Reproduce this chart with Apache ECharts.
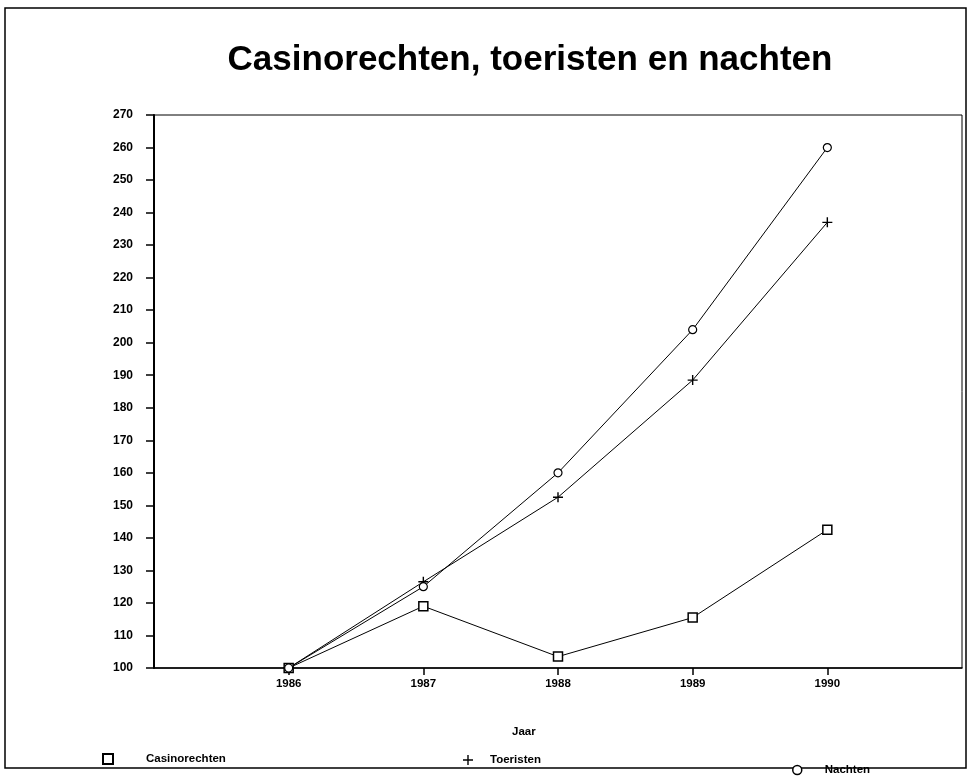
<!DOCTYPE html>
<html>
<head>
<meta charset="utf-8">
<script src="https://cdn.jsdelivr.net/npm/echarts@6/dist/echarts.min.js"></script>
<style>html,body{margin:0;padding:0;background:#fff}#c{width:975px;height:779px}</style>
</head>
<body>
<div id="c"></div>
<script>
var years = [1986, 1987, 1988, 1989, 1990];
var yTicks = [100,110,120,130,140,150,160,170,180,190,200,210,220,230,240,250,260,270];
var casinorechten = [100, 119, 103.5, 115.5, 142.5];
var toeristen = [100, 126.5, 152.5, 188.5, 237];
var nachten = [100, 125, 160, 204, 260];

function pairs(vals){ return years.map(function(y,i){ return [y, vals[i]]; }); }
var FONT = '"Liberation Sans", Arial, sans-serif';
var plus = 'path://M4.3,0H5.7V10H4.3ZM0,4.3H10V5.7H0Z';

var chart = echarts.init(document.getElementById('c'));
chart.setOption({
  backgroundColor: '#fff',
  animation: false,
  title: {
    text: 'Casinorechten, toeristen en nachten',
    left: 525, top: 38, textAlign: 'center',
    textStyle: {fontFamily: FONT, fontSize: 35, fontWeight: 'bold', color: '#000'}
  },
  grid: {left: 154, top: 115, right: 13, bottom: 111, show: true, borderColor: '#000', borderWidth: 1, backgroundColor: 'transparent'},
  xAxis: {
    type: 'value', min: 1985, max: 1991, interval: 1,
    axisLine: {show: true, lineStyle: {color: '#000', width: 1.5}},
    axisTick: {show: true, length: 7, lineStyle: {color: '#000', width: 1.5},
      customValues: years},
    axisLabel: {
      customValues: years,
      formatter: function(v){ return String(v); },
      fontFamily: FONT, fontSize: 11.5, fontWeight: 'bold', color: '#000', margin: 10
    },
    splitLine: {show: false}
  },
  yAxis: {
    type: 'value', min: 100, max: 270, interval: 10,
    axisLine: {show: true, lineStyle: {color: '#000', width: 2}},
    axisTick: {show: true, length: 8, lineStyle: {color: '#000', width: 1.5}},
    axisLabel: {fontFamily: FONT, fontSize: 12, fontWeight: 'bold', color: '#000', margin: 21},
    splitLine: {show: false}
  },
  legend: [
    {left: 97, top: 748, itemWidth: 10, itemHeight: 10, itemGap: 10,
     data: [{name: 'Casinorechten', icon: 'rect', itemStyle: {color: '#fff', borderColor: '#000', borderWidth: 2}}],
     textStyle: {fontFamily: FONT, fontSize: 11.5, fontWeight: 'bold', color: '#000', padding: [0,0,0,28]}},
    {left: 458, top: 749, itemWidth: 10, itemHeight: 10,
     data: [{name: 'Toeristen', icon: plus, itemStyle: {color: '#000', borderWidth: 0}}],
     textStyle: {fontFamily: FONT, fontSize: 11.5, fontWeight: 'bold', color: '#000', padding: [0,0,0,12]}},
    {left: 787, top: 759, itemWidth: 9, itemHeight: 9,
     data: [{name: 'Nachten', icon: 'circle', itemStyle: {color: '#fff', borderColor: '#000', borderWidth: 1.5}}],
     textStyle: {fontFamily: FONT, fontSize: 11.5, fontWeight: 'bold', color: '#000', padding: [0,0,0,18]}}
  ],
  graphic: [
    {type: 'rect', shape: {x: 5, y: 8, width: 961, height: 760}, style: {fill: 'none', stroke: '#000', lineWidth: 1.5}, silent: true, z: -1},
    {type: 'text', left: 512, top: 726, style: {text: 'Jaar', font: 'bold 11.5px ' + FONT, fill: '#000'}}
  ],
  series: [
    {name: 'Casinorechten', type: 'line', data: pairs(casinorechten), symbol: 'rect', symbolSize: 9,
     showAllSymbol: true, lineStyle: {color: '#000', width: 1}, itemStyle: {color: '#fff', borderColor: '#000', borderWidth: 1.5}},
    {name: 'Toeristen', type: 'line', data: pairs(toeristen), symbol: plus, symbolSize: 10,
     lineStyle: {color: '#000', width: 1}, itemStyle: {color: '#000', borderWidth: 0}},
    {name: 'Nachten', type: 'line', data: pairs(nachten), symbol: 'circle', symbolSize: 8,
     lineStyle: {color: '#000', width: 1}, itemStyle: {color: '#fff', borderColor: '#000', borderWidth: 1.2}}
  ]
});
</script>
</body>
</html>
